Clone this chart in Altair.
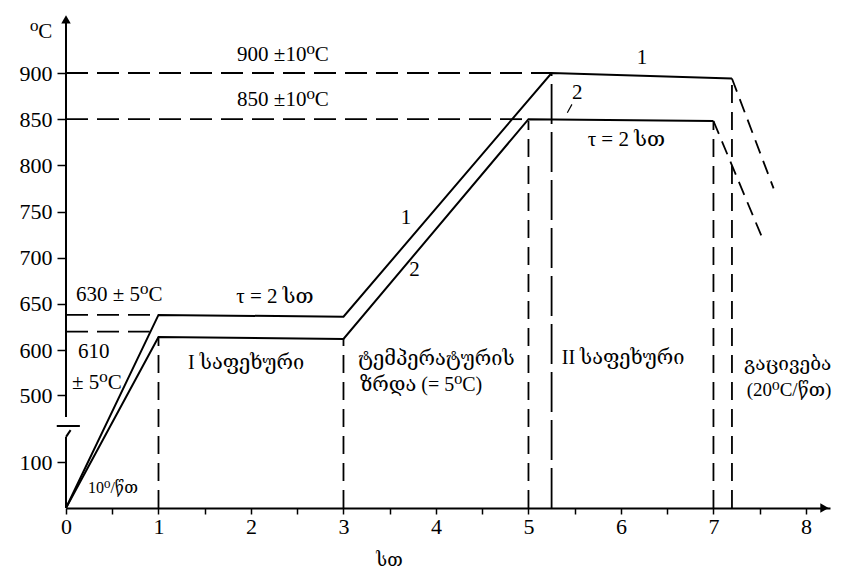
import altair as alt
import pandas as pd

# ---------------- data ----------------
# curve 1 (upper) and curve 2 (lower): hours, temperature (°C)
hours_1 = [0.0, 1.0, 3.0, 5.25, 7.2]
temp_1 = [0, 638, 636, 900, 894]
hours_2 = [0.0, 1.0, 3.0, 5.0, 7.0]
temp_2 = [0, 614, 612, 850, 848]

# cooling (dashed) segments: start hour, start temp, end hour, end temp
cool_x = [7.2, 7.0]
cool_y = [894, 848]
cool_x2 = [7.65, 7.55]
cool_y2 = [775, 716]

# dashed horizontal guides: from hour 0 to hour_end at temperature
hguide_end = [5.25, 5.0, 1.0, 0.905]
hguide_temp = [900, 850, 638, 620]

# dashed vertical guides: at hour, from 0 to temperature
vguide_hour = [1.0, 3.0, 5.0, 7.0, 7.2]
vguide_temp = [614, 612, 848, 848, 894]
long_vguide_hour = [5.25]
long_vguide_temp = [900]

y_ticks = [100, 500, 600, 650, 700, 750, 800, 850, 900]
x_ticks = [0, 0.5, 1, 1.5, 2, 2.5, 3, 3.5, 4, 4.5, 5, 5.5, 6, 6.5, 7, 7.5, 8]

# annotations (hour, temperature, text)
ann_x = [-0.39, 1.85, 1.85, 6.17, 5.47, 5.64, 3.62, 3.71, 1.84, 0.108, 0.13, 0.065]
ann_y = [944, 919.5, 871, 916, 878, 827, 743, 687, 657, 660, 596, 527]
ann_text = ["⁰C", "900 ±10⁰C", "850 ±10⁰C", "1", "2", "τ = 2 სთ", "1", "2",
            "τ = 2 სთ", "630 ± 5⁰C", "610", "± 5⁰C"]
geo_x = [1.32, 3.157, 3.178, 5.36]
geo_y = [571, 580, 522, 582]
geo_text = ["I  საფეხური", "ტემპერატურის", "ზრდა (= 5⁰C)", "II საფეხური"]
cool_ann_x = [7.33, 7.36]
cool_ann_y = [569, 511]
cool_ann_text = ["გაცივება", "(20⁰C/წთ)"]
small_ann_x = [0.238]
small_ann_y = [43.5]
small_ann_text = ["10⁰/წთ"]

# ---------------- chart ----------------
FONT = "Liberation Serif, DejaVu Serif, DejaVu Sans"

x_scale = alt.Scale(domain=[0, 8.26], nice=False, zero=False)
y_scale = alt.Scale(domain=[0, 100, 500, 600, 900, 966],
                    range=[496, 450, 383, 338, 61, 0], nice=False, zero=False)

x_axis = alt.Axis(values=x_ticks,
                  labelExpr="datum.value % 1 == 0 ? format(datum.value, 'd') : ''",
                  title="სთ", titleX=323, titleY=52, titleAlign="center",
                  titleBaseline="middle", titleFont=FONT, titleFontSize=18,
                  titleFontWeight="normal", titleColor="black",
                  domain=True, domainColor="black", domainWidth=2,
                  tickColor="black", tickWidth=1.5, tickSize=6,
                  labelFont=FONT, labelFontSize=22, labelColor="black",
                  labelPadding=2, labelOverlap=False, labelFlush=False, grid=False)
y_axis = alt.Axis(values=y_ticks, title=None, domain=False,
                  tickColor="black", tickWidth=1.5, tickSize=9,
                  labelFont=FONT, labelFontSize=22, labelColor="black",
                  labelPadding=5, labelOverlap=False, labelFlush=False, grid=False)


def X(f):
    return alt.X(f"{f}:Q", scale=x_scale, axis=x_axis)


def Y(f):
    return alt.Y(f"{f}:Q", scale=y_scale, axis=y_axis)


curves = pd.DataFrame({
    "x": hours_1 + hours_2,
    "y": temp_1 + temp_2,
    "series": ["1"] * len(hours_1) + ["2"] * len(hours_2),
    "order": list(range(len(hours_1))) + list(range(len(hours_2))),
})
line_layer = alt.Chart(curves).mark_line(color="black", strokeWidth=2, strokeJoin="miter").encode(
    x=X("x"), y=Y("y"), detail="series:N", order="order:Q")

cool = pd.DataFrame({"x": cool_x, "y": cool_y, "x2": cool_x2, "y2": cool_y2})
cool_layer = alt.Chart(cool).mark_rule(color="black", strokeWidth=1.8, strokeDash=[14, 8]).encode(
    x=X("x"), y=Y("y"), x2="x2:Q", y2="y2:Q")

hg = pd.DataFrame({"x": [0.0] * len(hguide_end), "x2": hguide_end, "y": hguide_temp})
hg_layer = alt.Chart(hg).mark_rule(color="black", strokeWidth=1.8, strokeDash=[22, 9]).encode(
    x=X("x"), x2="x2:Q", y=Y("y"))

vg = pd.DataFrame({"x": vguide_hour, "y": [0] * len(vguide_hour), "y2": vguide_temp})
vg_layer = alt.Chart(vg).mark_rule(color="black", strokeWidth=1.8, strokeDash=[18, 9]).encode(
    x=X("x"), y=Y("y"), y2="y2:Q")

lvg = pd.DataFrame({"x": long_vguide_hour, "y": [0] * len(long_vguide_hour), "y2": long_vguide_temp})
lvg_layer = alt.Chart(lvg).mark_rule(color="black", strokeWidth=1.8, strokeDash=[40, 8]).encode(
    x=X("x"), y=Y("y"), y2="y2:Q")

# y axis line with a break
yaxis_df = pd.DataFrame({"x": [0.0, 0.0, -0.1, 0.0], "x2": [0.0, 0.0, 0.15, 0.05],
                         "y": [0, 369, 315, 250], "y2": [250, 955, 315, 290]})
yaxis_layer = alt.Chart(yaxis_df).mark_rule(color="black", strokeWidth=2).encode(
    x=X("x"), x2="x2:Q", y=Y("y"), y2="y2:Q")

leader = pd.DataFrame({"x": [5.42], "x2": [5.47], "y": [857], "y2": [866]})
leader_layer = alt.Chart(leader).mark_rule(color="black", strokeWidth=1.2).encode(
    x=X("x"), x2="x2:Q", y=Y("y"), y2="y2:Q")

arrows = pd.DataFrame({"x": [0.0, 8.2], "y": [958, 0], "shape": ["triangle-up", "triangle-right"]})
arrow_layer = alt.Chart(arrows).mark_point(filled=True, color="black", size=90, opacity=1).encode(
    x=X("x"), y=Y("y"), shape=alt.Shape("shape:N", scale=None))

ann = pd.DataFrame({"x": ann_x, "y": ann_y, "t": ann_text})
ann_layer = alt.Chart(ann).mark_text(align="left", baseline="middle", font=FONT,
                                     fontSize=21, color="black").encode(
    x=X("x"), y=Y("y"), text="t:N")

geo = pd.DataFrame({"x": geo_x, "y": geo_y, "t": geo_text})
geo_layer = alt.Chart(geo).mark_text(align="left", baseline="middle", font=FONT,
                                     fontSize=20, color="black").encode(
    x=X("x"), y=Y("y"), text="t:N")

cann = pd.DataFrame({"x": cool_ann_x, "y": cool_ann_y, "t": cool_ann_text})
cann_layer = alt.Chart(cann).mark_text(align="left", baseline="middle", font=FONT,
                                       fontSize=19, color="black").encode(
    x=X("x"), y=Y("y"), text="t:N")

sann = pd.DataFrame({"x": small_ann_x, "y": small_ann_y, "t": small_ann_text})
sann_layer = alt.Chart(sann).mark_text(align="left", baseline="middle", font=FONT,
                                       fontSize=16, color="black").encode(
    x=X("x"), y=Y("y"), text="t:N")

chart = alt.layer(
    hg_layer, vg_layer, lvg_layer, cool_layer, line_layer, yaxis_layer,
    leader_layer, arrow_layer, ann_layer, geo_layer, cann_layer, sann_layer
).properties(
    width=764, height=496,
    padding={"left": 58, "top": 4, "right": 11, "bottom": 65},
    autosize=alt.AutoSizeParams(type="none"),
    background="white",
).configure_view(stroke=None)

chart.save("out.html", embed_options={"renderer": "svg", "actions": False})
